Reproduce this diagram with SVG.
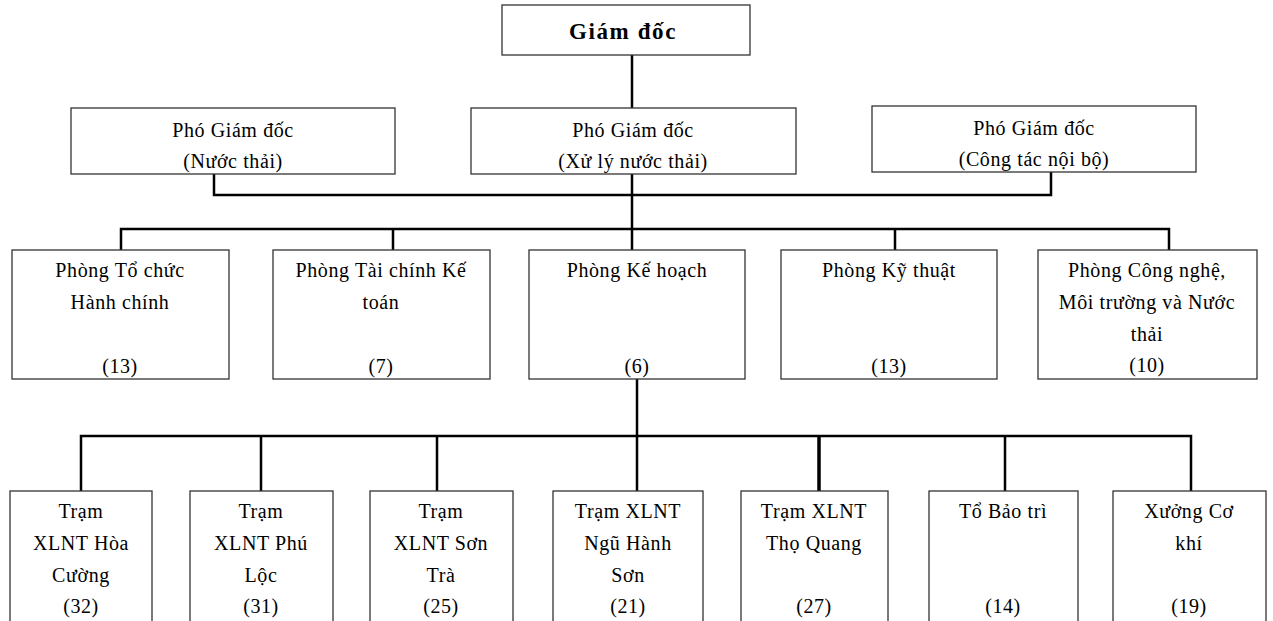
<svg xmlns="http://www.w3.org/2000/svg" width="1273" height="621" viewBox="0 0 1273 621">
<style>
.box{fill:#fff;stroke:#333;stroke-width:1.3}
.t{font-family:"Liberation Serif","Times New Roman",serif;font-size:20px;letter-spacing:0.6px;fill:#000;text-anchor:middle}
.tb{font-family:"Liberation Serif","Times New Roman",serif;font-size:23px;font-weight:bold;letter-spacing:1.6px;fill:#000;text-anchor:middle}
.c{fill:none;stroke:#000;stroke-width:2.5}
</style>
<rect width="1273" height="621" fill="#fff"/>
<g id="connectors">
<path class="c" d="M632 55V108"/>
<path class="c" d="M214 174V195H1051V172"/>
<path class="c" d="M632 174V229"/>
<path class="c" d="M121 250V229H1169V250"/>
<path class="c" d="M393 229V250M632 229V250M895 229V250"/>
<path class="c" d="M637 379V436"/>
<path class="c" d="M81 491V436H1191V491"/>
<path class="c" d="M261 436V491M437 436V491M637 436V491M1005 436V491"/>
<path class="c" d="M819 436V491" style="stroke-width:3.5"/>
</g>
<g id="giam-doc">
<rect class="box" x="502" y="5" width="248" height="50"/>
<text class="tb" x="623" y="39">Giám đốc</text>
</g>
<g id="pgd-nuoc-thai">
<rect class="box" x="71" y="108" width="324" height="66"/>
<text class="t" x="233" y="137">Phó Giám đốc</text>
<text class="t" x="233" y="168">(Nước thải)</text>
</g>
<g id="pgd-xu-ly">
<rect class="box" x="471" y="108" width="325" height="66"/>
<text class="t" x="633" y="137">Phó Giám đốc</text>
<text class="t" x="633" y="168">(Xử lý nước thải)</text>
</g>
<g id="pgd-cong-tac">
<rect class="box" x="872" y="106" width="324" height="66"/>
<text class="t" x="1034" y="135">Phó Giám đốc</text>
<text class="t" x="1034" y="166">(Công tác nội bộ)</text>
</g>
<g id="p-to-chuc">
<rect class="box" x="12" y="250" width="217" height="129"/>
<text class="t" x="120" y="277">Phòng Tổ chức</text>
<text class="t" x="120" y="309">Hành chính</text>
<text class="t" x="120" y="373">(13)</text>
</g>
<g id="p-tai-chinh">
<rect class="box" x="273" y="250" width="217" height="129"/>
<text class="t" x="381" y="277">Phòng Tài chính Kế</text>
<text class="t" x="381" y="309">toán</text>
<text class="t" x="381" y="373">(7)</text>
</g>
<g id="p-ke-hoach">
<rect class="box" x="529" y="250" width="216" height="129"/>
<text class="t" x="637" y="277">Phòng Kế hoạch</text>
<text class="t" x="637" y="373">(6)</text>
</g>
<g id="p-ky-thuat">
<rect class="box" x="781" y="250" width="216" height="129"/>
<text class="t" x="889" y="277">Phòng Kỹ thuật</text>
<text class="t" x="889" y="373">(13)</text>
</g>
<g id="p-cong-nghe">
<rect class="box" x="1038" y="250" width="219" height="129"/>
<text class="t" x="1147" y="277">Phòng Công nghệ,</text>
<text class="t" x="1147" y="309">Môi trường và Nước</text>
<text class="t" x="1147" y="341">thải</text>
<text class="t" x="1147" y="372">(10)</text>
</g>
<g id="tram-hoa-cuong">
<rect class="box" x="10" y="491" width="142" height="140"/>
<text class="t" x="81" y="518">Trạm</text>
<text class="t" x="81" y="550">XLNT Hòa</text>
<text class="t" x="81" y="582">Cường</text>
<text class="t" x="81" y="613">(32)</text>
</g>
<g id="tram-phu-loc">
<rect class="box" x="190" y="491" width="143" height="140"/>
<text class="t" x="261" y="518">Trạm</text>
<text class="t" x="261" y="550">XLNT Phú</text>
<text class="t" x="261" y="582">Lộc</text>
<text class="t" x="261" y="613">(31)</text>
</g>
<g id="tram-son-tra">
<rect class="box" x="370" y="491" width="143" height="140"/>
<text class="t" x="441" y="518">Trạm</text>
<text class="t" x="441" y="550">XLNT Sơn</text>
<text class="t" x="441" y="582">Trà</text>
<text class="t" x="441" y="613">(25)</text>
</g>
<g id="tram-ngu-hanh-son">
<rect class="box" x="553" y="491" width="150" height="140"/>
<text class="t" x="628" y="518">Trạm XLNT</text>
<text class="t" x="628" y="550">Ngũ Hành</text>
<text class="t" x="628" y="582">Sơn</text>
<text class="t" x="628" y="613">(21)</text>
</g>
<g id="tram-tho-quang">
<rect class="box" x="741" y="491" width="147" height="140"/>
<text class="t" x="814" y="518">Trạm XLNT</text>
<text class="t" x="814" y="550">Thọ Quang</text>
<text class="t" x="814" y="613">(27)</text>
</g>
<g id="to-bao-tri">
<rect class="box" x="929" y="491" width="149" height="140"/>
<text class="t" x="1003" y="518">Tổ Bảo trì</text>
<text class="t" x="1003" y="613">(14)</text>
</g>
<g id="xuong-co-khi">
<rect class="box" x="1113" y="491" width="153" height="140"/>
<text class="t" x="1189" y="518">Xưởng Cơ</text>
<text class="t" x="1189" y="550">khí</text>
<text class="t" x="1189" y="613">(19)</text>
</g>
</svg>
